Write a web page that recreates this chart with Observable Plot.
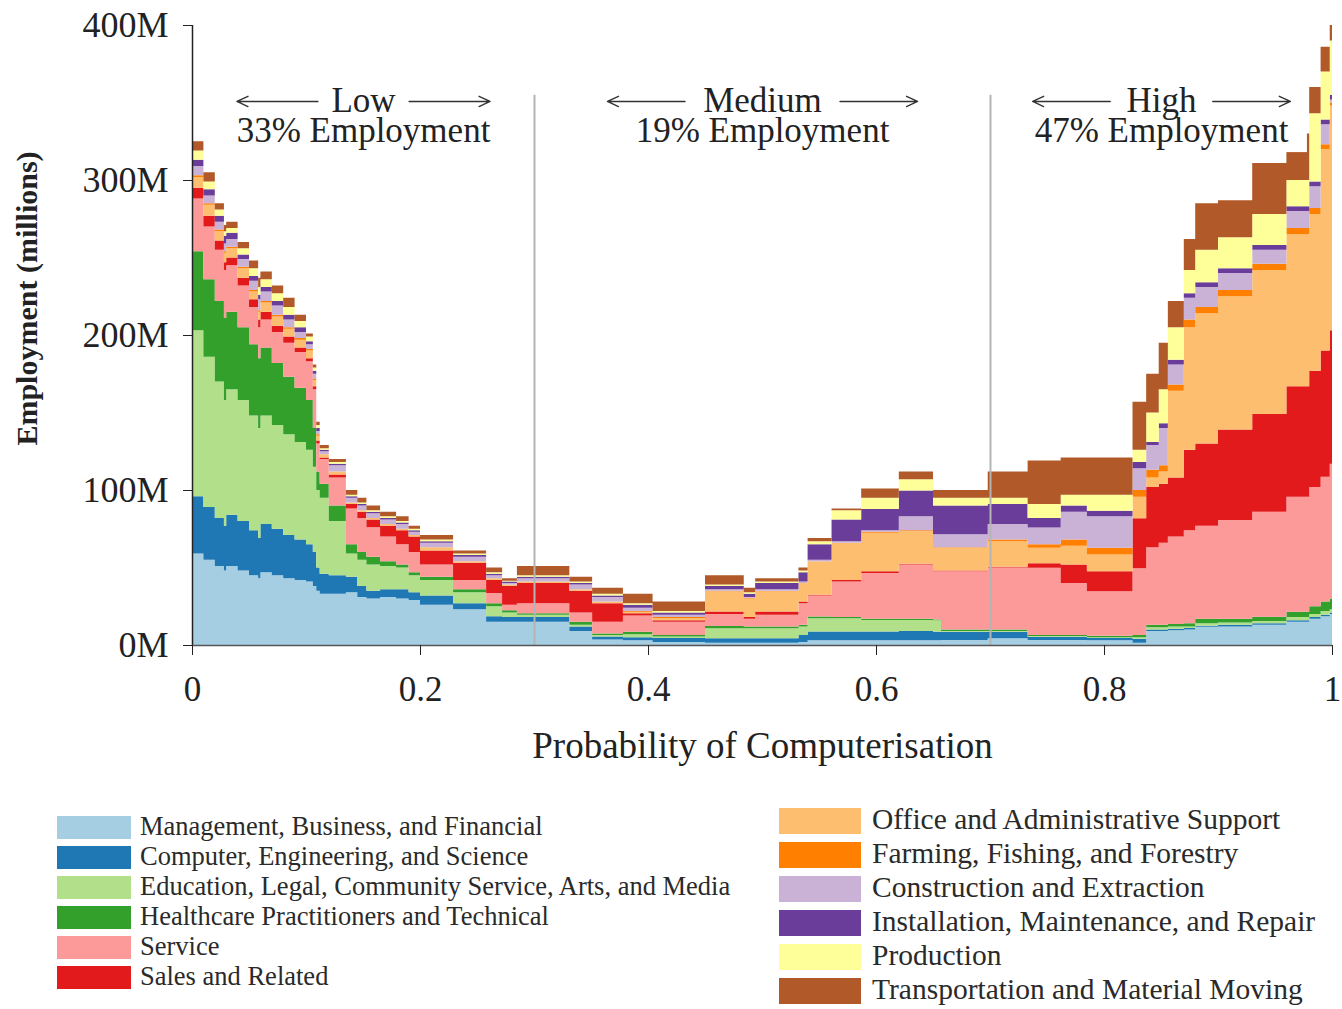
<!DOCTYPE html>
<html>
<head>
<meta charset="utf-8">
<script src="https://cdn.jsdelivr.net/npm/d3@7"></script>
<script src="https://cdn.jsdelivr.net/npm/@observablehq/plot@0.6"></script>
<style>
  body { margin: 0; background: #fff; font-family: "Liberation Serif", "Times New Roman", serif; }
  #wrap { position: relative; width: 1342px; height: 1009px; overflow: hidden; }
  #legend { position: absolute; left: 0; top: 770px; width: 1342px; height: 239px; }
  .sw { position: absolute; }
  .lt { position: absolute; color: #2a2a2a; white-space: nowrap; line-height: 1; }
</style>
</head>
<body>
<div id="wrap"><div id="chart"></div><div id="legend"></div></div>
<script>
// ---------- DATA ----------
const categories = [
  "Management, Business, and Financial",
  "Computer, Engineering, and Science",
  "Education, Legal, Community Service, Arts, and Media",
  "Healthcare Practitioners and Technical",
  "Service",
  "Sales and Related",
  "Office and Administrative Support",
  "Farming, Fishing, and Forestry",
  "Construction and Extraction",
  "Installation, Maintenance, and Repair",
  "Production",
  "Transportation and Material Moving"
];
const colors = ["#a6cee3","#1f78b4","#b2df8a","#33a02c","#fb9a99","#e31a1c","#fdbf6f","#ff7f00","#cab2d6","#6a3d9a","#ffff99","#b15928"];

// probability of computerisation (step positions)
const probability = [0,0.010,0.020,0.028,0.030,0.040,0.050,0.058,0.060,0.070,0.080,0.090,0.100,0.106,0.109,0.112,0.120,0.135,0.145,0.153,0.165,0.179,0.190,0.200,0.229,0.258,0.272,0.285,0.331,0.351,0.378,0.404,0.450,0.484,0.494,0.532,0.540,0.561,0.587,0.620,0.650,0.657,0.698,0.733,0.762,0.785,0.825,0.837,0.848,0.856,0.870,0.880,0.900,0.930,0.960,0.980,0.990,0.998,1.000];

// employment (millions) per occupation group
const management = [59,55,51,48,51,48,45,43,47,45,43,42,41,38,35,33,33,34,31,30,31,30,29,26,23,15,15,15,9,3.5,3,2,1.5,1.5,1.5,2,3,3,3,3,3,3.2,4.3,3.2,3.2,3,1.5,9,9,9.5,10,11.8,12,13,15,17,18.5,20,20];
const computer = [37,34,31,29,33,32,29,26,31,30,28,26,24,22,15,13,12,10,7,5,5,6,5,6,4,3.5,3,3,3,2,2,2.5,2.8,2.8,2.8,4.5,5.7,5.7,5.7,6,5.5,5.4,4.3,2.2,2.2,1.5,2.5,1,1,1,1,0.7,1,1,1,1,1,1,1];
const education = [107,97,88,81,81,78,74,71,70,67,65,63,61,55,50,49,35,15,17,17,15,14,11,10,7,6.5,3,1.5,1,1,2,1,6.5,6.5,6.5,5.5,8.6,8.6,7.5,7.2,7.5,0.4,0.4,0.4,0.4,0.5,1,1.5,1.5,1.5,1,1.5,1.5,1.5,2,2,2.5,2,2];
const healthcare = [51,50,52,53,50,47,46,45,44,40,37,35,32,25,12,9,10,6,5,5,3,2,2,2,2,2,1.5,1,2,1,1.5,1,1.5,1.2,1.2,1,1.1,0.7,0.8,0.8,0.5,1,1,0.7,0.7,1,1.5,1.5,1.5,1.5,2,3,2.5,2.8,3.5,5,6,7,7];
const service = [34,34,33,31,30,27,24,20,18,20,22,23,25,25,18,16,18,23,22,19,16,13,13,8,6,6.5,3.5,6.5,6,7.5,10.5,8.5,7.7,5,7.5,14,13.6,23,29.5,35,31.1,37.6,40,43.3,33.5,28.6,43,50,53,56.5,60,60,63.6,67.7,74.2,77,80.6,87,87];
const sales = [7,7,6,5,5,5,5,5,5,4,4,3,2,2,2,1,2,3,4,5,7,9,10,9,11,8.5,12,13,14,12,1.5,1,1.6,1,2.1,1,0.5,1,1.1,0.5,0.4,0.4,0.5,3,12,13,32.2,39,38,38,52,53,58.4,63,71.3,75,81.4,86,86];
const office = [7,7,6,6,6,6,5,5,6,6,5,5,5,4,3,2,2,1,1,1,1,1,1,2,1,1,1,1,1,1,1,1.5,13,12,13,12,21.5,24,24.9,21.1,14.8,14.8,16.5,10,12,10.8,14,6,8,56,79,84,86,93,98,101,130,145,145];
const farming = [1,1,1,1,1,1,1,1,1,1,1,1,1,1,1,0,0,0,0,0,0,0,0,0,0,0,0,0,0,0,0.5,0.5,0.4,0.5,0.4,0,0,0,0.5,0.4,0.2,0.2,1,2.2,4,4.4,4.3,5,4,4,5,4,4,4,4,4,3,2,2];
const construction = [6,5,5,5,5,5,6,7,6,6,5,4,3,3,2,2,4,3,3,3,3,3,2,3,3,2,1,2,3,3,2,1.5,1,0.5,1,1,1,1,1,9,8.4,8.4,10,10.8,18,20.2,14,16,24,13,14,13,11,9,11,14,13,2,2];
const installation = [4,4,4,5,4,3,3,3,3,3,3,3,2,2,2,1,1,1,1,1,1,1,1,1,1,1,1,1,1,1,2,1.5,2,2,4,6,10,14,13.7,16.6,18.6,18.6,13,6.2,4,3.6,4,2,3,3,3,3,3,3,3,3,3,3,3];
const production = [6,5,4,3,3,4,5,5,5,5,5,4,3,2,2,1,1,1,1,1,1,1,1,1,1,1,0.5,1,1,1,1,1,1,1,1,1,2,6,7.3,7.4,5,5,4,9,7,10.4,8,19,22,21,15,21,20,20,17,44,31,35,35];
const transportation = [6,6,4,4,4,4,5,6,5,5,6,4,2,2,2,2,2,3,3,3,3,3,2,3,2,3,1.5,6,3,4,6,6,6,3,2,2,2,1,6,5,5,5,17,28,24,24,31,25,30,17,20,30,24,33,30,17,16,10,10];

const seriesValues = [management, computer, education, healthcare, service, sales, office, farming, construction, installation, production, transportation];

const yTicks = [0, 100, 200, 300, 400];
const xTicks = [0, 0.2, 0.4, 0.6, 0.8, 1];
const thresholds = [0.3, 0.7];
const zoneNames = ["Low", "Medium", "High"];
const zoneShares = ["33% Employment", "19% Employment", "47% Employment"];
const zoneCenters = [0.15, 0.5, 0.85];

// ---------- BUILD ----------
const rows = probability.flatMap((p, i) =>
  categories.map((c, j) => ({ p, category: c, value: seriesValues[j][i] })));

const innerGap = [0.040, 0.068, 0.045];
const outerGap = [0.111, 0.136, 0.113];
const arrowY = 351;
const arrows = zoneCenters.flatMap((c, i) => [
  { x1: c - innerGap[i], x2: c - outerGap[i] },
  { x1: c + innerGap[i], x2: c + outerGap[i] }
]);
const zoneLabels = zoneNames.map((n, i) => n + "\n" + zoneShares[i]);
const highBox = [{ x1: 0.728, x2: 0.978, y1: 318, y2: 368 }];

const font = "Liberation Serif";
const chart = Plot.plot({
  width: 1342,
  height: 770,
  marginLeft: 192,
  marginRight: 10,
  marginTop: 25,
  marginBottom: 125,
  style: { fontFamily: font, fontSize: "36px", color: "#222", background: "#fff", overflow: "visible" },
  x: { domain: [0, 1] },
  y: { domain: [0, 400] },
  color: { domain: categories, range: colors },
  marks: [
    Plot.areaY(rows, { x: "p", y: "value", fill: "category", z: "category", curve: "step-after", order: categories }),
    Plot.rect(highBox, { x1: "x1", x2: "x2", y1: "y1", y2: "y2", fill: "#fff" }),
    Plot.ruleX(thresholds, { y1: 0, y2: 355, stroke: "#b4b4b4", strokeWidth: 2 }),
    Plot.ruleX([0], { stroke: "#222", strokeWidth: 1.5 }),
    Plot.ruleY([0], { stroke: "#555", strokeWidth: 1.5 }),
    Plot.axisY({ ticks: yTicks, tickFormat: d => d + "M", tickSize: 9, tickPadding: 15, label: null, fontSize: 36 }),
    Plot.axisX({ ticks: xTicks, tickFormat: d => String(d), tickSize: 10, tickPadding: 21, label: null, fontSize: 35 }),
    Plot.text(["Probability of Computerisation"], { frameAnchor: "bottom", lineAnchor: "middle", dy: 101, fontSize: 37, fill: "#222" }),
    Plot.text(["Employment (millions)"], { frameAnchor: "left", textAnchor: "middle", lineAnchor: "middle", dx: -165, dy: -37, rotate: -90, fontSize: 30, fontWeight: "bold", fill: "#222" }),
    Plot.text(zoneLabels, { x: (d, i) => zoneCenters[i], frameAnchor: "top", lineAnchor: "top", dy: 65, lineHeight: 0.86, fontSize: 35, fill: "#222" }),
    Plot.arrow(arrows, { x1: "x1", x2: "x2", y1: arrowY, y2: arrowY, stroke: "#333", strokeWidth: 1.4, headLength: 13, headAngle: 50 })
  ]
});
document.getElementById("chart").appendChild(chart);

// ---------- LEGEND ----------
const legend = document.getElementById("legend");
categories.forEach((c, i) => {
  const right = i >= 6;
  const k = right ? i - 6 : i;
  const sw = document.createElement("div");
  sw.className = "sw";
  const top = right ? 38 + 34 * k : 46 + 30 * k;
  const h = right ? 26 : 23;
  Object.assign(sw.style, {
    left: (right ? 779 : 57) + "px", top: top + "px",
    width: (right ? 82 : 74) + "px", height: h + "px", background: colors[i]
  });
  legend.appendChild(sw);
  const t = document.createElement("div");
  t.className = "lt";
  t.textContent = c;
  const fs = right ? 29.5 : 26.5;
  Object.assign(t.style, {
    left: (right ? 872 : 140) + "px",
    top: (top + h / 2 - fs * 0.55) + "px",
    fontSize: fs + "px"
  });
  legend.appendChild(t);
});
</script>
</body>
</html>
